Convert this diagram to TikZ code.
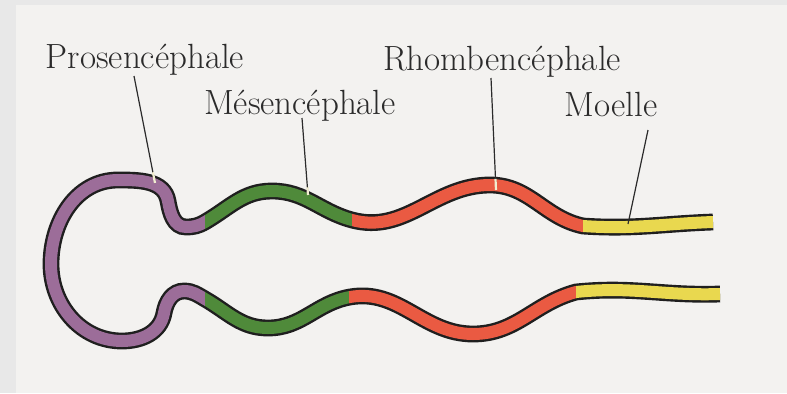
\documentclass[tikz,border=0pt]{standalone}
\usepackage{xcolor}
\usepackage{tikz}
\usetikzlibrary{calc}
\usetikzlibrary{positioning}
\tikzset{>=latex}

\definecolor{pros}{HTML}{9C6D99}
\definecolor{mes}{HTML}{4F8A3A}
\definecolor{rhomb}{HTML}{EA5A42}
\definecolor{moel}{HTML}{E9D84F}
\definecolor{paper}{HTML}{F3F2F0}
\definecolor{margin}{HTML}{E8E8E8}
\definecolor{ink}{HTML}{2B2B2B}

\tikzstyle{wall} = [line width=8.4pt, draw=black!88, line cap=butt]
\tikzstyle{core} = [line width=6pt, line cap=butt]
\tikzstyle{lbl} = [draw=none, inner sep=0, anchor=base, text=ink, font=\fontsize{17.5}{20}\selectfont]
\tikzstyle{lead} = [-, draw=ink, line width=0.6pt]
\tikzstyle{leadtip} = [-, draw=paper!80!moel, line width=1.1pt]

% wall of the neural tube, upper and lower side, both from the front of the loop
\newcommand\upperwall{(51,129) to[out=90,in=180] (118,213)
  to[out=0,in=100] (168,192) to[out=-80,in=180] (186,166)
  to[out=0,in=210] (205,171) to[out=30,in=180] (272,202)
  to[out=0,in=165] (352,173) to[out=-15,in=180] (490,208)
  to[out=0,in=168] (583,167) to[out=-4,in=182] (713,171)}
\newcommand\lowerwall{(51,129) to[out=-90,in=180] (122,52)
  to[out=0,in=-100] (164,80) to[out=80,in=180] (184,102)
  to[out=0,in=150] (205,94) to[out=-30,in=180] (268,65)
  to[out=0,in=190] (350,96) to[out=10,in=180] (473,59)
  to[out=0,in=195] (576,101) to[out=6,in=182] (720,99)}

\begin{document}
\begin{tikzpicture}[x=0.5pt, y=0.5pt]
\useasboundingbox (0,0) rectangle (787,393);
\fill[margin] (0,0) rectangle (787,393);
\fill[paper] (16,0) rectangle (787,388);

% black outline first, then each part in its colour
\draw[wall] \upperwall;
\draw[wall] \lowerwall;
\begin{scope}
\clip (0,0) rectangle (205,393);
\draw[core, draw=pros] \upperwall;
\draw[core, draw=pros] \lowerwall;
\end{scope}
\begin{scope}
\clip (205,131) rectangle (352,393) (205,0) rectangle (349,131);
\draw[core, draw=mes] \upperwall;
\draw[core, draw=mes] \lowerwall;
\end{scope}
\begin{scope}
\clip (352,131) rectangle (583,393) (349,0) rectangle (576,131);
\draw[core, draw=rhomb] \upperwall;
\draw[core, draw=rhomb] \lowerwall;
\end{scope}
\begin{scope}
\clip (583,131) rectangle (787,393) (576,0) rectangle (787,131);
\draw[core, draw=moel] \upperwall;
\draw[core, draw=moel] \lowerwall;
\end{scope}

\node [lbl] (pros) at (145, 325) {Prosencéphale};
\node [lbl] (mes) at (300, 279) {Mésencéphale};
\node [lbl] (rhomb) at (502, 323) {Rhombencéphale};
\node [lbl] (moel) at (611, 277) {Moelle};

\coordinate (prosTop) at (134, 317);
\coordinate (prosTip) at (155, 210);
\coordinate (mesTop) at (302, 275);
\coordinate (mesTip) at (308, 198);
\coordinate (rhombTop) at (491, 315);
\coordinate (rhombTip) at (496, 203);
\coordinate (moelTop) at (648, 263);
\coordinate (moelTip) at (628, 169);

\draw [lead] (prosTop) to (prosTip);
\draw [lead] (mesTop) to (mesTip);
\draw [lead] (rhombTop) to (rhombTip);
\draw [lead] (moelTop) to (moelTip);
\draw [leadtip] ($(prosTop)!0.9!(prosTip)$) to (prosTip);
\draw [leadtip] ($(mesTop)!0.9!(mesTip)$) to (mesTip);
\draw [leadtip] ($(rhombTop)!0.9!(rhombTip)$) to (rhombTip);
\end{tikzpicture}
\end{document}
